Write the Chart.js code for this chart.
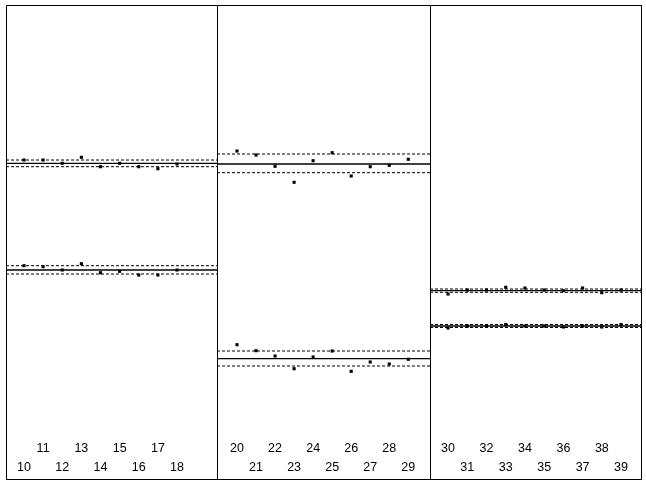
<!DOCTYPE html>
<html>
<head>
<meta charset="utf-8">
<script src="https://cdn.jsdelivr.net/npm/chart.js@4.4.0/dist/chart.umd.min.js"></script>
<style>
    body { margin: 0; background: #fff; }
    #wrap { position: absolute; left: 6px; top: 5px; width: 636px; height: 475px; }
    canvas { position: absolute; top: 0; }
</style>
</head>
<body>
<div id="wrap">
    <canvas id="p1" width="211" height="475" style="left:0;width:211px;height:475px"></canvas>
    <canvas id="p2" width="213" height="475" style="left:211px;width:213px;height:475px"></canvas>
    <canvas id="p3" width="212" height="475" style="left:424px;width:212px;height:475px"></canvas>
</div>
<script>
// sample numbers per panel
const panelIndex = [
    [10, 11, 12, 13, 14, 15, 16, 17, 18],
    [20, 21, 22, 23, 24, 25, 26, 27, 28, 29],
    [30, 31, 32, 33, 34, 35, 36, 37, 38, 39],
];
// labels printed on the upper tick row (the rest go on the lower row)
const topRowLabels = [
    [11, 13, 15, 17],
    [20, 22, 24, 26, 28],
    [30, 32, 34, 36, 38],
];
const xRange = [[9.06, 20.09], [18.95, 30.14], [29.06, 40.09]];

// upper group of points
const upperValues = [
    [27.5, 27.5, 27.17, 27.77, 26.83, 27.17, 26.83, 26.63, 27.1],
    [28.4, 28.0, 26.87, 25.27, 27.43, 28.23, 25.9, 26.83, 26.97, 27.57],
    [14.1, 14.5, 14.5, 14.77, 14.7, 14.5, 14.43, 14.7, 14.23, 14.5],
];
// lower group of points
const lowerValues = [
    [16.93, 16.83, 16.5, 17.13, 16.23, 16.37, 16.0, 16.0, 16.5],
    [9.03, 8.43, 7.9, 6.63, 7.8, 8.4, 6.37, 7.3, 7.1, 7.57],
    [10.7, 10.9, 10.9, 11.05, 10.9, 10.9, 10.8, 10.9, 10.8, 11.05],
];
// [upper limit, centre, lower limit]
const upperLimits = [[27.5, 27.17, 26.83], [28.1, 27.1, 26.23], [14.6, 14.43, 14.27]];
const lowerLimits = [[16.93, 16.5, 16.1], [8.4, 7.63, 6.9], [11.05, 10.9, 10.75]];

const frame = {
    id: "frame",
    afterDraw(chart, args, opts) {
        const { ctx, width, height } = chart;
        ctx.save();
        ctx.strokeStyle = "#000";
        ctx.lineWidth = 1;
        ctx.beginPath();
        ctx.moveTo(0.5, height);
        ctx.lineTo(0.5, 0.5);
        ctx.lineTo(width, 0.5);
        ctx.moveTo(0, height - 0.5);
        ctx.lineTo(width, height - 0.5);
        if (opts.right) {
            ctx.moveTo(width - 0.5, 0);
            ctx.lineTo(width - 0.5, height);
        }
        ctx.stroke();
        ctx.restore();
    },
};

function limitLine(range, v, dashed) {
    return {
        type: "line",
        data: [{ x: range[0], y: v }, { x: range[1], y: v }],
        borderColor: "#000",
        borderWidth: dashed ? 1 : 1.3,
        borderDash: dashed ? [3, 2] : [],
        pointRadius: 0,
    };
}

function points(xs, ys) {
    return {
        type: "scatter",
        data: xs.map((x, k) => ({ x: x, y: ys[k] })),
        pointStyle: "rect",
        pointRadius: 2.2,
        backgroundColor: "#000",
        borderColor: "#000",
        borderWidth: 0,
    };
}

["p1", "p2", "p3"].forEach((id, i) => {
    const r = xRange[i];
    new Chart(document.getElementById(id), {
        type: "scatter",
        data: {
            datasets: [
                limitLine(r, upperLimits[i][0], true),
                limitLine(r, upperLimits[i][1], false),
                limitLine(r, upperLimits[i][2], true),
                limitLine(r, lowerLimits[i][0], true),
                limitLine(r, lowerLimits[i][1], false),
                limitLine(r, lowerLimits[i][2], true),
                points(panelIndex[i], upperValues[i]),
                points(panelIndex[i], lowerValues[i]),
            ],
        },
        options: {
            responsive: false,
            animation: false,
            layout: { padding: 0, autoPadding: false },
            plugins: { legend: { display: false }, tooltip: { enabled: false }, frame: { right: i === 2 } },
            scales: {
                x: {
                    type: "linear",
                    min: r[0],
                    max: r[1],
                    grid: { display: false, drawTicks: false },
                    border: { display: false },
                    afterBuildTicks: (s) => { s.ticks = panelIndex[i].map((v) => ({ value: v })); },
                    afterFit: (s) => { s.height = 45; s.paddingLeft = 0; s.paddingRight = 0; },
                    ticks: {
                        autoSkip: false,
                        maxRotation: 0,
                        padding: 4,
                        color: "#000",
                        font: { family: "'Liberation Sans', Arial, sans-serif", size: 12.5, lineHeight: 1.5 },
                        callback: (v) => topRowLabels[i].includes(v) ? [String(v), ""] : ["", String(v)],
                    },
                },
                y: { display: false, min: 0, max: 43 },
            },
        },
        plugins: [frame],
    });
});
</script>
</body>
</html>
